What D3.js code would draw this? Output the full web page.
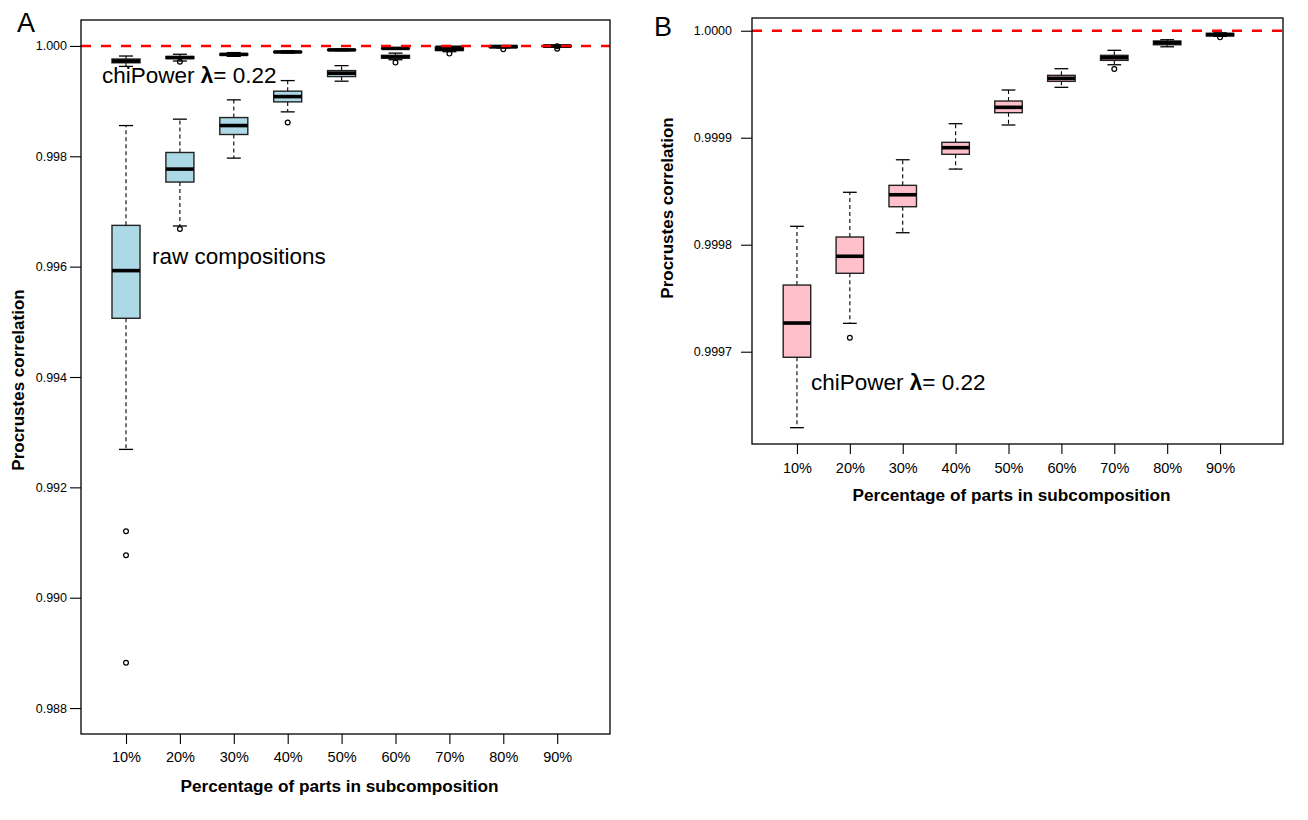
<!DOCTYPE html>
<html>
<head>
<meta charset="utf-8">
<script src="https://cdn.jsdelivr.net/npm/d3@7"></script>
<style>
  body { margin: 0; background: #fff; }
  text { font-family: "Liberation Sans", Arial, Helvetica, sans-serif; }
</style>
</head>
<body>
<svg id="chart" width="1308" height="820"></svg>
<script>

const categories = ["10%", "20%", "30%", "40%", "50%", "60%", "70%", "80%", "90%"]

// raw compositions (panel A, big blue boxes)
const rawLow  = [0.992688, 0.996737, 0.997967, 0.998805, 0.999361, 0.999750, 0.999895, 0.999964, 0.999978]
const rawQ1   = [0.995064, 0.997533, 0.998395, 0.998986, 0.999445, 0.999780, 0.999919, 0.999976, 0.999988]
const rawMed  = [0.995928, 0.997768, 0.998557, 0.999082, 0.999506, 0.999801, 0.999937, 0.999986, 0.999995]
const rawQ3   = [0.996748, 0.998069, 0.998702, 0.999180, 0.999553, 0.999830, 0.999955, 0.999995, 0.999999]
const rawHigh = [0.998557, 0.998673, 0.999023, 0.999372, 0.999643, 0.999870, 0.999976, 1.000000, 1.000000]
const rawOut  = [[0.991204, 0.990769, 0.988820], [0.996682], [], [0.998612], [], [0.999698], [0.999861], [0.999940], [0.999951]]

// chiPower lambda = 0.22 (panel B, also the flat boxes at the top of panel A)
const chiLow  = [0.9996290, 0.9997265, 0.9998112, 0.9998707, 0.9999119, 0.9999471, 0.9999682, 0.9999850, 0.9999947]
const chiQ1   = [0.9996948, 0.9997733, 0.9998355, 0.9998845, 0.9999234, 0.9999527, 0.9999723, 0.9999869, 0.9999952]
const chiMed  = [0.9997268, 0.9997892, 0.9998467, 0.9998907, 0.9999284, 0.9999555, 0.9999748, 0.9999888, 0.9999963]
const chiQ3   = [0.9997623, 0.9998072, 0.9998555, 0.9998957, 0.9999343, 0.9999583, 0.9999770, 0.9999904, 0.9999976]
const chiHigh = [0.9998172, 0.9998490, 0.9998794, 0.9999131, 0.9999446, 0.9999645, 0.9999817, 0.9999916, 0.9999981]
const chiOut  = [[], [0.9997131], [], [], [], [], [0.9999642], [], [0.9999938]]

const ticksA = [0.988, 0.990, 0.992, 0.994, 0.996, 0.998, 1.000]
const ticksB = [0.9997, 0.9998, 0.9999, 1.0000]

function series(low, q1, med, q3, high, out) {
    return categories.map((c, i) => ({
        cat: c, i: i + 1, low: low[i], q1: q1[i], med: med[i], q3: q3[i], high: high[i], out: out[i]
    }))
}

const rawData = series(rawLow, rawQ1, rawMed, rawQ3, rawHigh, rawOut)
const chiData = series(chiLow, chiQ1, chiMed, chiQ3, chiHigh, chiOut)

const svg = d3.select('#chart')

function drawPanel(p) {
    const g = svg.append('g')
    const x = d3.scaleLinear().domain(p.xDomain).range([p.left, p.right])
    const y = d3.scaleLinear().domain(p.yDomain).range([p.bottom, p.top])

    // y axis
    const ya = g.append('g')
        .attr('transform', `translate(${p.left},0)`)
        .call(d3.axisLeft(y).tickValues(p.yTicks).tickFormat(d3.format(p.fmt))
            .tickSize(11).tickPadding(p.yPad))
    ya.select('.domain').remove()
    ya.selectAll('line').attr('stroke', '#000').attr('stroke-width', 1.1)
    ya.selectAll('text').attr('font-size', 12.5).attr('fill', '#000')
        .style('font-family', '"Liberation Sans", Arial, sans-serif')

    // x axis
    const xa = g.append('g')
        .attr('transform', `translate(0,${p.bottom})`)
        .call(d3.axisBottom(x).tickValues(d3.range(1, categories.length + 1))
            .tickFormat(d => categories[d - 1]).tickSize(10).tickPadding(p.xPad))
    xa.select('.domain').remove()
    xa.selectAll('line').attr('stroke', '#000').attr('stroke-width', 1.1)
    xa.selectAll('text').attr('font-size', 14.5).attr('fill', '#000')
        .style('font-family', '"Liberation Sans", Arial, sans-serif')

    // boxes
    p.sets.forEach(s => {
        const hw = 0.26
        const bg = g.append('g').selectAll('g').data(s.data).enter().append('g')

        bg.append('line')
            .attr('x1', d => x(d.i)).attr('x2', d => x(d.i))
            .attr('y1', d => y(d.q3)).attr('y2', d => y(d.high))
            .attr('stroke', '#000').attr('stroke-width', 1.1).attr('stroke-dasharray', '4,3')
        bg.append('line')
            .attr('x1', d => x(d.i)).attr('x2', d => x(d.i))
            .attr('y1', d => y(d.q1)).attr('y2', d => y(d.low))
            .attr('stroke', '#000').attr('stroke-width', 1.1).attr('stroke-dasharray', '4,3')
        // caps
        bg.selectAll('.cap').data(d => [d.low, d.high].map(v => ({ i: d.i, v: v }))).enter()
            .append('line')
            .attr('x1', d => x(d.i - hw / 2)).attr('x2', d => x(d.i + hw / 2))
            .attr('y1', d => y(d.v)).attr('y2', d => y(d.v))
            .attr('stroke', '#000').attr('stroke-width', 1.3)
        bg.append('rect')
            .attr('x', d => x(d.i - hw))
            .attr('width', d => x(d.i + hw) - x(d.i - hw))
            .attr('y', d => y(d.q3))
            .attr('height', d => y(d.q1) - y(d.q3))
            .attr('fill', s.fill).attr('stroke', '#222').attr('stroke-width', 1.4)
        bg.append('line')
            .attr('x1', d => x(d.i - hw)).attr('x2', d => x(d.i + hw))
            .attr('y1', d => y(d.med)).attr('y2', d => y(d.med))
            .attr('stroke', '#000').attr('stroke-width', 3.6)
        bg.selectAll('circle').data(d => d.out.map(v => ({ i: d.i, v: v }))).enter()
            .append('circle')
            .attr('cx', d => x(d.i)).attr('cy', d => y(d.v)).attr('r', 2.4)
            .attr('fill', 'none').attr('stroke', '#000').attr('stroke-width', 1.2)
    })

    // reference line at 1
    g.append('line')
        .attr('x1', p.left).attr('x2', p.right)
        .attr('y1', y(1)).attr('y2', y(1))
        .attr('stroke', '#ff0000').attr('stroke-width', 2.6).attr('stroke-dasharray', '10,10')

    // frame
    g.append('rect')
        .attr('x', p.left).attr('y', p.top)
        .attr('width', p.right - p.left).attr('height', p.bottom - p.top)
        .attr('fill', 'none').attr('stroke', '#000').attr('stroke-width', 1.3)

    // axis titles
    g.append('text')
        .attr('x', (p.left + p.right) / 2 - 6).attr('y', p.xTitleY)
        .attr('text-anchor', 'middle').attr('font-size', 17.2).attr('font-weight', 'bold')
        .text('Percentage of parts in subcomposition')
    g.append('text')
        .attr('transform', `translate(${p.yTitleX},${p.yTitleMid}) rotate(-90)`)
        .attr('text-anchor', 'middle').attr('font-size', 17).attr('font-weight', 'bold')
        .text('Procrustes correlation')

    // panel letter
    g.append('text').attr('x', p.letterX).attr('y', p.letterY)
        .attr('font-size', 27).text(p.letter)

    // annotations
    p.notes.forEach(n => {
        const t = g.append('text').attr('x', n.x).attr('y', n.y).attr('font-size', 22.5)
        if (n.lambda) {
            t.append('tspan').text('chiPower ')
            t.append('tspan').attr('font-weight', 'bold').text('\u03bb')
            t.append('tspan').text('= 0.22')
        } else {
            t.text(n.text)
        }
    })
}

drawPanel({
    letter: 'A', letterX: 17, letterY: 32,
    left: 81, right: 610, top: 20, bottom: 734,
    xDomain: [0.165, 9.98], yDomain: [0.98753, 1.00047],
    yTicks: ticksA, fmt: '.3f', yPad: 3, xPad: 8,
    xTitleY: 792, yTitleX: 24, yTitleMid: 380,
    sets: [
        { data: rawData, fill: '#add8e6' },
        { data: chiData, fill: '#add8e6' }
    ],
    notes: [
        { x: 102, y: 83, lambda: true },
        { x: 152, y: 264, text: 'raw compositions' }
    ]
})

drawPanel({
    letter: 'B', letterX: 654, letterY: 36,
    left: 752, right: 1283, top: 18, bottom: 444,
    xDomain: [0.15, 10.19], yDomain: [0.99961374, 1.0000119],
    yTicks: ticksB, fmt: '.4f', yPad: 9, xPad: 9,
    xTitleY: 501, yTitleX: 673, yTitleMid: 208,
    sets: [
        { data: chiData, fill: '#ffc0cb' }
    ],
    notes: [
        { x: 811, y: 390, lambda: true }
    ]
})

</script>
</body>
</html>
